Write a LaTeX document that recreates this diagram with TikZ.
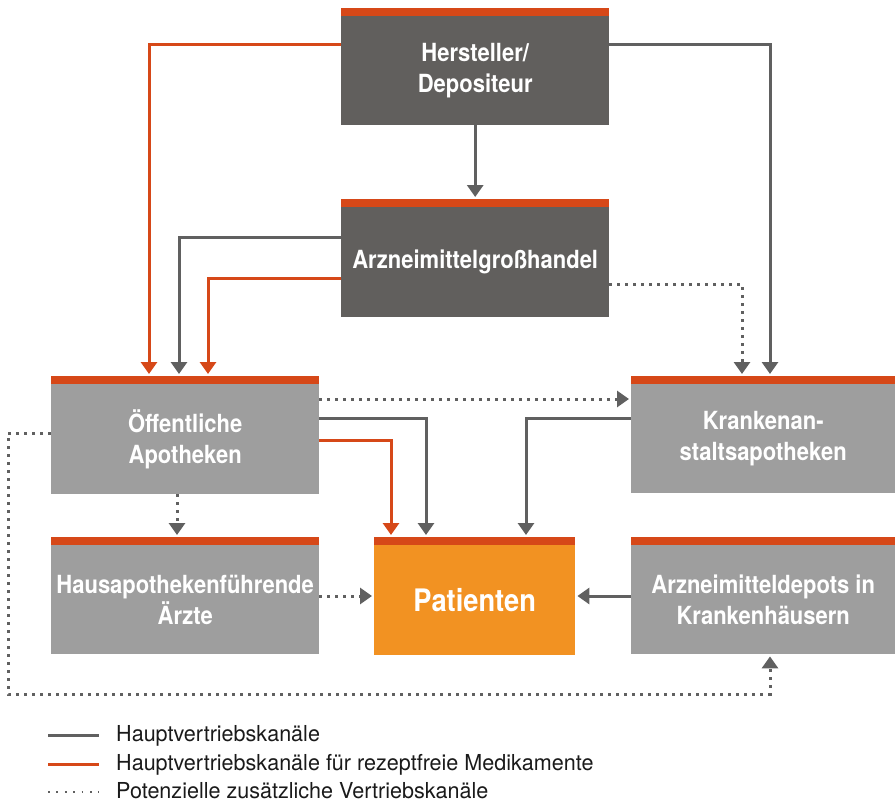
\documentclass[tikz,border=0pt]{standalone}
\usepackage{fontspec}
\setmainfont{TeX Gyre Heros}[FakeStretch=0.88]
\newfontfamily\legfont{TeX Gyre Heros}[FakeStretch=0.98]
\usetikzlibrary{arrows.meta}
\definecolor{barc}{HTML}{D64818}
\definecolor{darkbox}{HTML}{615F5D}
\definecolor{lightbox}{HTML}{9E9E9E}
\definecolor{patc}{HTML}{F29222}
\definecolor{linec}{HTML}{606060}
\definecolor{legc}{HTML}{1A1A1A}
\tikzset{
  box/.style={rectangle, draw=none, inner sep=0pt, anchor=north west,
    path picture={\fill[barc] (path picture bounding box.north west) rectangle ([yshift=-8pt]path picture bounding box.north east);}},
  dbox/.style={box, fill=darkbox},
  lbox/.style={box, fill=lightbox},
  pbox/.style={box, fill=patc},
  btxt/.style={text=white, font=\fontsize{25}{31}\selectfont\bfseries, align=center, inner sep=0pt},
  ptxt/.style={text=white, font=\fontsize{31}{36}\selectfont\bfseries, align=center, inner sep=0pt},
  tip/.style={-{Triangle[width=16pt,length=12pt]}},
  gline/.style={draw=linec, line width=3pt, tip, shorten >=2pt},
  oline/.style={draw=barc, line width=3pt, tip, shorten >=2pt},
  dline/.style={draw=linec, line width=3pt, dash pattern=on 3pt off 5pt, tip, shorten >=2pt},
  legt/.style={anchor=base west, inner sep=0pt, text=legc, font=\legfont\fontsize{22}{25}\selectfont},
}
\begin{document}
\begin{tikzpicture}[x=1pt, y=-1pt]
\useasboundingbox (0,0) rectangle (895,803);

% boxes
\node[dbox, minimum width=268pt, minimum height=117pt] (H) at (341,8) {};
\node[dbox, minimum width=268pt, minimum height=118pt] (G) at (341,199) {};
\node[lbox, minimum width=268pt, minimum height=118pt] (O) at (51,376) {};
\node[lbox, minimum width=264pt, minimum height=117pt] (K) at (631,376) {};
\node[lbox, minimum width=268pt, minimum height=117pt] (A) at (51,537) {};
\node[pbox, minimum width=201pt, minimum height=118pt] (P) at (374,537) {};
\node[lbox, minimum width=264pt, minimum height=117pt] (D) at (631,537) {};

% texts
\node[btxt] (tH) at ([yshift=-4pt]H.center) {Hersteller/\\Depositeur};
\node[btxt] (tG) at ([yshift=-4pt]G.center) {Arzneimittelgroßhandel};
\node[btxt] (tO) at ([yshift=-4pt]O.center) {Öffentliche\\Apotheken};
\node[btxt] (tK) at ([yshift=-4pt]K.center) {Krankenan-\\staltsapotheken};
\node[btxt] (tA) at ([yshift=-4pt]A.center) {Hausapothekenführende\\Ärzte};
\node[ptxt] (tP) at ([yshift=-4pt]P.center) {Patienten};
\node[btxt] (tD) at ([yshift=-4pt]D.center) {Arzneimitteldepots in\\Krankenhäusern};

% connectors
\draw[gline] (H.south) -- (G.north);
\draw[oline] (H.west |- 0,44) -| (O.north -| 149,0);
\draw[gline] (H.east |- 0,44) -| (K.north -| 770,0);
\draw[gline] (G.west |- 0,237) -| (O.north -| 179,0);
\draw[oline] (G.west |- 0,278) -| (O.north -| 208,0);
\draw[dline] (G.east |- 0,284) -| (K.north -| 742,0);
\draw[dline] (O.east |- 0,399) -- (K.west |- 0,399);
\draw[gline] (O.east |- 0,418) -| (P.north -| 426,0);
\draw[oline] (O.east |- 0,440) -| (P.north -| 391,0);
\draw[gline] (K.west |- 0,418) -| (P.north -| 526,0);
\draw[dline] (O.south -| 177,0) -- (A.north -| 177,0);
\draw[dline] (A.east |- 0,596) -- (P.west |- 0,596);
\draw[gline] (D.west |- 0,596) -- (P.east |- 0,596);
\coordinate (c1) at (8,694);
\draw[dline] (O.west |- 0,433) -| (c1) -| (D.south -| 770,0);

% legend
\draw[line width=3pt, linec] (48,735) -- (99,735);
\draw[line width=3pt, barc] (48,764) -- (99,764);
\draw[line width=1.8pt, linec, dash pattern=on 1.8pt off 6.6pt] (48,792) -- (99,792);
\node[legt] (l1) at (116,741) {Hauptvertriebskanäle};
\node[legt] (l2) at (116,770) {Hauptvertriebskanäle für rezeptfreie Medikamente};
\node[legt] (l3) at (116,798) {Potenzielle zusätzliche Vertriebskanäle};
\end{tikzpicture}
\end{document}
